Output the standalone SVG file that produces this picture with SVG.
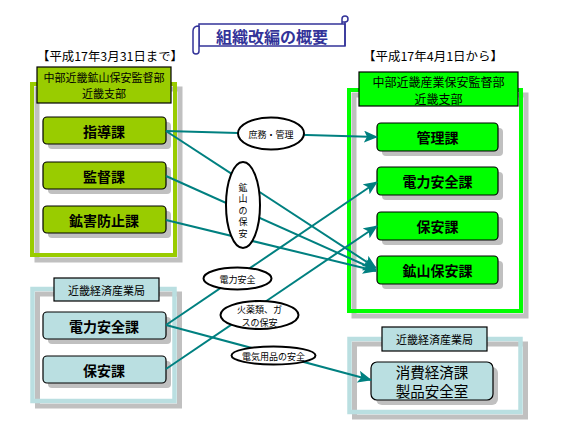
<svg xmlns="http://www.w3.org/2000/svg" width="564" height="423" viewBox="0 0 564 423">
<defs>
<style>
text{font-family:"Noto Sans CJK JP","Noto Sans CJK SC",sans-serif;text-anchor:middle;dominant-baseline:central;fill:#000}
.shadow{fill:#C0C0C0}
.frameShadow{fill:none;stroke:#C0C0C0;stroke-width:5}
.g1{fill:#99CC00;stroke:#000;stroke-width:1.2}
.g2{fill:#00FF00;stroke:#000;stroke-width:1.2}
.b1{fill:#BADFE1;stroke:#000;stroke-width:1.2}
.lbl{font-size:14px;font-weight:bold}
.hdr{font-size:11px}
.conn{fill:none;stroke:#008080;stroke-width:2}
.ell{fill:#fff;stroke:#000;stroke-width:2}
.el{font-size:9px}
</style>
<marker id="arr" markerUnits="userSpaceOnUse" markerWidth="14" markerHeight="12" viewBox="0 0 14 12" refX="13" refY="6" orient="auto">
<path d="M0,0 L14,6 L0,12 L3,6 Z" fill="#008080"/>
</marker>
</defs>
<rect width="564" height="423" fill="#fff"/>

<g id="title">
<path d="M199,24 H345 V46 H199 Z" fill="#fff" stroke="#333399" stroke-width="1.5"/>
<path d="M199,26 q-6,0 -6,5 v20 q0,3 3,3 q3,0 3,-3 V26" fill="#fff" stroke="#333399" stroke-width="1.5"/>
<path d="M342,24 V19 q0,-3 3,-3 q3,0 3,3 q0,3 -3,3 H342 M345,22 V46" fill="#fff" stroke="#333399" stroke-width="1.5"/>
<text x="272" y="36" style="font-size:16px;font-weight:bold;fill:#333399">組織改編の概要</text>
</g>

<g id="label-before"><text x="110" y="55" style="font-size:12px" textLength="146" lengthAdjust="spacingAndGlyphs">【平成17年3月31日まで】</text></g>
<g id="label-after"><text x="433" y="55" style="font-size:12px" textLength="140" lengthAdjust="spacingAndGlyphs">【平成17年4月1日から】</text></g>

<g id="frame-old">
<rect x="37" y="89" width="143" height="171" class="frameShadow"/>
<rect x="32" y="84" width="143" height="171" fill="none" stroke="#99CC00" stroke-width="4"/>
<rect x="37" y="67" width="134" height="36" class="g1"/>
<text x="104" y="77" class="hdr">中部近畿鉱山保安監督部</text>
<text x="104" y="93" class="hdr">近畿支部</text>
</g>
<g id="shidou"><rect x="48" y="122" width="123" height="27" rx="4" class="shadow"/><rect x="43" y="117" width="123" height="27" rx="4" class="g1"/><text x="104" y="130.5" class="lbl">指導課</text></g>
<g id="kantoku"><rect x="48" y="167" width="123" height="27" rx="4" class="shadow"/><rect x="43" y="162" width="123" height="27" rx="4" class="g1"/><text x="104" y="175.5" class="lbl">監督課</text></g>
<g id="kougai"><rect x="48" y="211" width="123" height="27" rx="4" class="shadow"/><rect x="43" y="206" width="123" height="27" rx="4" class="g1"/><text x="104" y="219.5" class="lbl">鉱害防止課</text></g>

<g id="frame-new">
<rect x="354" y="95" width="172" height="221" class="frameShadow"/>
<rect x="349" y="90" width="172" height="221" fill="none" stroke="#00FF00" stroke-width="4"/>
<rect x="359" y="72" width="159" height="34" class="g2"/>
<text x="438.5" y="81" style="font-size:12px">中部近畿産業保安監督部</text>
<text x="438.5" y="98" style="font-size:12px">近畿支部</text>
</g>
<g id="kanri"><rect x="382" y="128" width="121" height="28" rx="4" class="shadow"/><rect x="377" y="123" width="121" height="28" rx="4" class="g2"/><text x="437.5" y="137" class="lbl">管理課</text></g>
<g id="denryoku-new"><rect x="382" y="172" width="121" height="28" rx="4" class="shadow"/><rect x="377" y="167" width="121" height="28" rx="4" class="g2"/><text x="437.5" y="181" class="lbl">電力安全課</text></g>
<g id="hoan-new"><rect x="382" y="217" width="121" height="28" rx="4" class="shadow"/><rect x="377" y="212" width="121" height="28" rx="4" class="g2"/><text x="437.5" y="226" class="lbl">保安課</text></g>
<g id="kouzan-hoan"><rect x="382" y="261" width="121" height="28" rx="4" class="shadow"/><rect x="377" y="256" width="121" height="28" rx="4" class="g2"/><text x="437.5" y="270" class="lbl">鉱山保安課</text></g>

<g id="frame-meti-old">
<rect x="37.5" y="294" width="142" height="112" class="frameShadow"/>
<rect x="32.5" y="289" width="142" height="112" fill="none" stroke="#BADFE1" stroke-width="4.5"/>
<rect x="54" y="278" width="105" height="23" class="b1"/>
<text x="106.5" y="289.5" class="hdr">近畿経済産業局</text>
</g>
<g id="denryoku-old"><rect x="48" y="317" width="123" height="27" rx="4" class="shadow"/><rect x="43" y="312" width="123" height="27" rx="4" class="b1"/><text x="104" y="325.5" class="lbl">電力安全課</text></g>
<g id="hoan-old"><rect x="48" y="361" width="123" height="27" rx="4" class="shadow"/><rect x="43" y="356" width="123" height="27" rx="4" class="b1"/><text x="104" y="369.5" class="lbl">保安課</text></g>

<g id="frame-meti-new">
<rect x="354.5" y="344" width="171" height="73" class="frameShadow"/>
<rect x="349.5" y="339" width="171" height="73" fill="none" stroke="#BADFE1" stroke-width="4.5"/>
<rect x="382" y="327" width="105" height="24" class="b1"/>
<text x="434.5" y="339" class="hdr">近畿経済産業局</text>
</g>
<g id="shouhi"><rect x="376" y="367" width="122" height="38" rx="6" class="shadow"/><rect x="371" y="362" width="122" height="38" rx="6" class="b1"/><text x="432" y="371.5" style="font-size:14.5px">消費経済課</text><text x="432" y="390.5" style="font-size:14.5px">製品安全室</text></g>

<g id="connectors">
<path class="conn" d="M166,131 L377,137" marker-end="url(#arr)"/>
<path class="conn" d="M166,131 L376,268" marker-end="url(#arr)"/>
<path class="conn" d="M166,176 L376,270" marker-end="url(#arr)"/>
<path class="conn" d="M166,220 L376,271" marker-end="url(#arr)"/>
<path class="conn" d="M166,325 L377,182" marker-end="url(#arr)"/>
<path class="conn" d="M166,369 L377,226" marker-end="url(#arr)"/>
<path class="conn" d="M166,325 L371,380" marker-end="url(#arr)"/>
<g id="lbl-shomu"><ellipse cx="271" cy="133.5" rx="33" ry="16" class="ell"/><text x="271" y="134" class="el">庶務・管理</text></g>
<g id="lbl-kouzan"><ellipse cx="243" cy="205" rx="17" ry="43" class="ell"/>
<text x="243" y="187" class="el">鉱</text><text x="243" y="198.5" class="el">山</text><text x="243" y="210" class="el">の</text><text x="243" y="221.5" class="el">保</text><text x="243" y="233" class="el">安</text></g>
<g id="lbl-denryoku"><ellipse cx="237.5" cy="278.5" rx="34" ry="11" class="ell"/><text x="237.5" y="279" class="el">電力安全</text></g>
<g id="lbl-kayaku"><ellipse cx="259.5" cy="315" rx="39" ry="14" class="ell"/><text x="259.5" y="309.5" class="el">火薬類、ガ</text><text x="259.5" y="322.5" class="el">スの保安</text></g>
<g id="lbl-denki"><ellipse cx="273.5" cy="355.5" rx="42" ry="9" class="ell"/><text x="273.5" y="356" class="el">電気用品の安全</text></g>
</g>
</svg>
